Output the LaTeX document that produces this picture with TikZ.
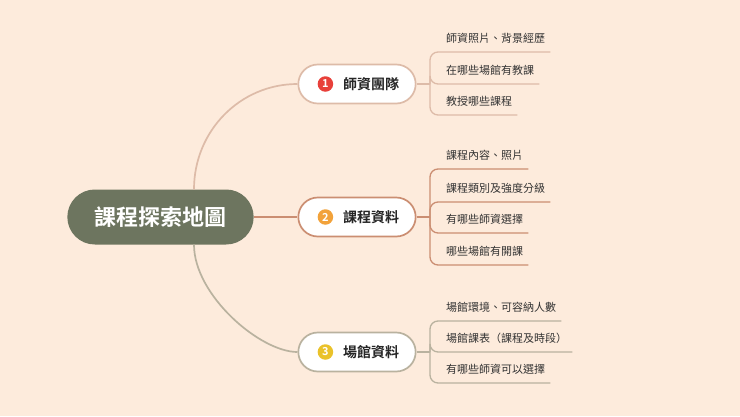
\documentclass[tikz,border=0pt]{standalone}
\usepackage{fontspec}
\setmainfont{Noto Sans CJK TC}[BoldFont={Noto Sans CJK TC Bold}]
\usepackage{tikz}
\usetikzlibrary{positioning, shapes.misc, calc}

\definecolor{bgpeach}{HTML}{FDEBDC}
\definecolor{mainfill}{HTML}{6D755F}
\definecolor{grpone}{HTML}{DDBBA8}
\definecolor{grptwo}{HTML}{CB8E72}
\definecolor{grpthree}{HTML}{B9B29F}
\definecolor{dotred}{HTML}{E8403A}
\definecolor{dotorange}{HTML}{F2A23A}
\definecolor{dotyellow}{HTML}{EAC22A}
\definecolor{leaftext}{HTML}{333333}

\begin{document}
\begin{tikzpicture}[x=1pt, y=-1pt,
    topic/.style={rounded rectangle, fill=mainfill, text=white, minimum width=193pt, minimum height=55pt, font=\fontsize{22}{24}\selectfont\bfseries},
    branch/.style={rounded rectangle, draw, line width=1.7pt, fill=white, minimum width=124pt, minimum height=39pt, text=black!85, font=\fontsize{14}{16}\selectfont\bfseries},
    numdot/.style={circle, inner sep=0pt, minimum size=15.5pt, text=white, font=\fontsize{11}{11}\selectfont\bfseries},
    leaf/.style={anchor=south west, inner xsep=5pt, inner ysep=0pt, text depth=9pt, text=leaftext, font=\fontsize{11}{12}\selectfont},
    link/.style={line width=1.7pt},
    twig/.style={line width=1.3pt, rounded corners=8pt}]

\fill[bgpeach] (0,0) rectangle (740,416);
\useasboundingbox (0,0) rectangle (740,416);

% Central topic
\node[topic] (map) at (160.5,217) {課程探索地圖};

% Branch 1 - teachers
\node[branch, draw=grpone] (b1) at (357,84) {\hspace*{28pt}師資團隊};
\node[numdot, fill=dotred, right=20pt of b1.west] (d1) {1};

% Branch 2 - courses
\node[branch, draw=grptwo] (b2) at (357,217) {\hspace*{28pt}課程資料};
\node[numdot, fill=dotorange, right=20pt of b2.west] (d2) {2};

% Branch 3 - venues
\node[branch, draw=grpthree] (b3) at (357,352) {\hspace*{28pt}場館資料};
\node[numdot, fill=dotyellow, right=20pt of b3.west] (d3) {3};

% Topic to branch connections
\draw[link, grpone] ($(map.north)+(33.5,0)$) .. controls (194,131) and (240,84) .. (b1.west);
\draw[link, grptwo] (map.east) -- (b2.west);
\draw[link, grpthree] ($(map.south)+(33.5,0)$) .. controls (194,295) and (260,352) .. (b3.west);

% Leaves of branch 1
\coordinate (j1) at (430,84);
\node[leaf] (l11) at (441,52) {師資照片、背景經歷};
\node[leaf] (l12) at (441,84) {在哪些場館有教課};
\node[leaf] (l13) at (441,115) {教授哪些課程};
\draw[twig, grpone] (b1.east) -- (j1);
\foreach \l in {l11,l12,l13}
  \draw[twig, grpone] (j1) |- (\l.south east);

% Leaves of branch 2
\coordinate (j2) at (430,217);
\node[leaf] (l21) at (441,169) {課程內容、照片};
\node[leaf] (l22) at (441,202) {課程類別及強度分級};
\node[leaf] (l23) at (441,233) {有哪些師資選擇};
\node[leaf] (l24) at (441,265) {哪些場館有開課};
\draw[twig, grptwo] (b2.east) -- (j2);
\foreach \l in {l21,l22,l23,l24}
  \draw[twig, grptwo] (j2) |- (\l.south east);

% Leaves of branch 3
\coordinate (j3) at (430,352);
\node[leaf] (l31) at (441,321) {場館環境、可容納人數};
\node[leaf] (l32) at (441,352) {場館課表（課程及時段）};
\node[leaf] (l33) at (441,383) {有哪些師資可以選擇};
\draw[twig, grpthree] (b3.east) -- (j3);
\foreach \l in {l31,l32,l33}
  \draw[twig, grpthree] (j3) |- (\l.south east);
\end{tikzpicture}
\end{document}
